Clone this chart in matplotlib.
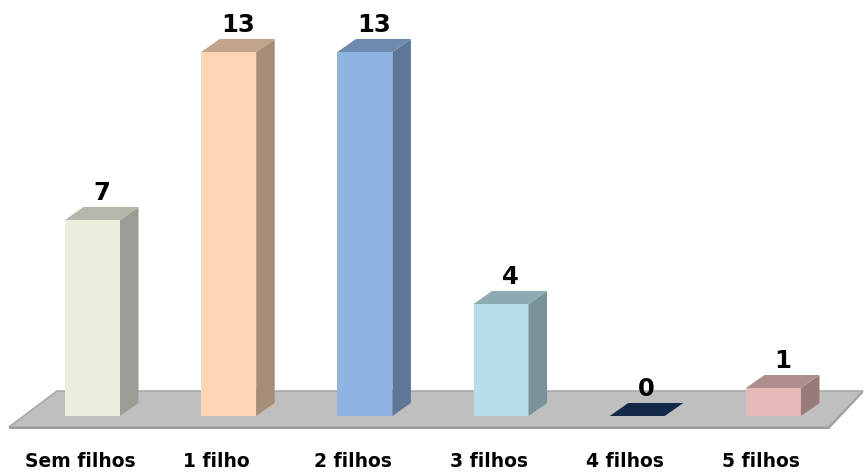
import numpy as np
import matplotlib.pyplot as plt
from matplotlib.patches import Polygon

# dados do gráfico
categorias = ['Sem filhos', '1 filho', '2 filhos', '3 filhos', '4 filhos', '5 filhos']
valores = [7, 13, 13, 4, 0, 1]
cores = ['#EBEEDD', '#FCD5B5', '#8EB4E3', '#B7DEE8', '#12294A', '#E6B9B8']

# estilo 3D (em unidades dos eixos)
meia_largura = 0.202     # metade da largura da barra
prof_x = 0.136           # deslocamento da profundidade em x
prof_y = 0.464           # deslocamento da profundidade em y


def escurecer(cor, fator):
    r, g, b = [int(cor[i:i + 2], 16) / 255 for i in (1, 3, 5)]
    return (r * fator, g * fator, b * fator)


fig = plt.figure(figsize=(8.64, 4.76), dpi=100)
ax = fig.add_axes([0, 0, 1, 1])
ax.set_xlim(-0.679, 5.665)
ax.set_ylim(-2.143, 14.857)
ax.axis('off')

# piso cinza
piso = Polygon([(-0.613, -0.393), (5.407, -0.393), (5.657, 0.893), (-0.261, 0.893)],
               closed=True, facecolor='#BFBFBF', edgecolor='#A9A9A9', linewidth=1.2, zorder=1)
ax.add_patch(piso)
borda = Polygon([(-0.613, -0.393), (5.407, -0.393), (5.407, -0.47), (-0.613, -0.47)],
                closed=True, facecolor='#9C9C9C', edgecolor='none', zorder=1)
ax.add_patch(borda)
borda_dir = Polygon([(5.407, -0.393), (5.657, 0.893), (5.657, 0.82), (5.407, -0.47)],
                    closed=True, facecolor='#9C9C9C', edgecolor='none', zorder=1)
ax.add_patch(borda_dir)

x = np.arange(len(categorias))
for i, v, c in zip(x, valores, cores):
    x0, x1 = i - meia_largura, i + meia_largura
    if v > 0:
        # frente
        ax.add_patch(Polygon([(x0, 0), (x1, 0), (x1, v), (x0, v)], closed=True,
                             facecolor=c, edgecolor='none', zorder=3))
        # lado
        ax.add_patch(Polygon([(x1, 0), (x1 + prof_x, prof_y), (x1 + prof_x, v + prof_y), (x1, v)],
                             closed=True, facecolor=escurecer(c, 0.66), edgecolor='none', zorder=3))
    # topo
    topo_cor = c if v == 0 else escurecer(c, 0.77)
    ax.add_patch(Polygon([(x0, v), (x1, v), (x1 + prof_x, v + prof_y), (x0 + prof_x, v + prof_y)],
                         closed=True, facecolor=topo_cor, edgecolor='none', zorder=3))
    ax.text(i + prof_x / 2, v + 0.73, str(v), ha='center', va='baseline',
            fontsize=17.5, fontweight='bold', family='DejaVu Sans', color='black', zorder=4)
    ax.text(i - 0.09, -1.82, categorias[i], ha='center', va='baseline',
            fontsize=13.5, fontweight='bold', family='DejaVu Sans', color='black', zorder=4)

plt.savefig('out.png', dpi=100)
